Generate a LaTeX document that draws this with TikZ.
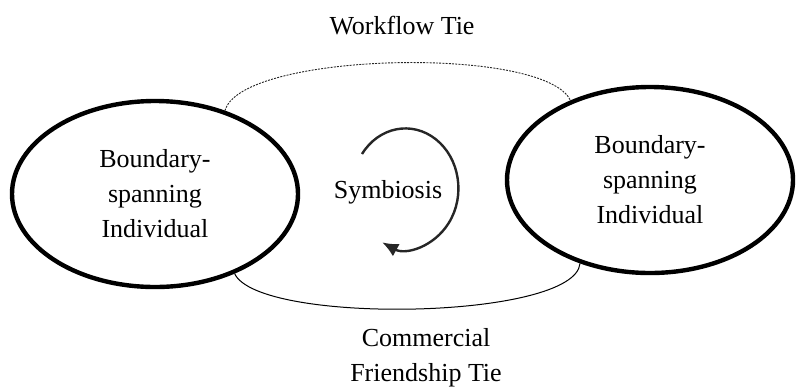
\documentclass[tikz,border=0pt]{standalone}
\usepackage{fontspec}
\setmainfont{Liberation Serif}
\usepackage{tikz}
\usetikzlibrary{arrows.meta,shapes}
\tikzstyle{agent}=[ellipse, draw, line width=2.2pt,% the two thick ovals
minimum width=143pt, minimum height=93pt, inner sep=0pt, align=center,
font=\fontsize{13}{17.5}\selectfont]
\tikzstyle{tielbl}=[align=center, inner sep=0pt, font=\fontsize{13}{17.5}\selectfont]
\tikzstyle{worktie}=[line width=0.45pt, black!85, dash pattern=on 1pt off 0.6pt]
\tikzstyle{commtie}=[line width=0.5pt]
\tikzstyle{cycle}=[line width=1.2pt, black!85, -{Latex[length=8pt,width=7pt]}]

\begin{document}
\begin{tikzpicture}[x=0.5pt,y=0.5pt]
\useasboundingbox (0,0) rectangle (796,388);
\node[agent] (bsL) at (155,194) {Boundary-\\spanning\\Individual};
\node[agent] (bsR) at (650,208) {Boundary-\\spanning\\Individual};
\node[tielbl] (wft) at (402,362) {Workflow Tie};
\node[tielbl] (cft) at (426,30) {Commercial\\Friendship Tie};
\node[tielbl] (sym) at (388,196) {Symbiosis};
\coordinate (cyc) at (362,234);
\draw[worktie] (bsL.50) to[out=75,in=115,looseness=0.45] (bsR.135);
\draw[commtie] (bsL.-45) to[out=-65,in=-95,looseness=0.42] (bsR.230);
\draw[cycle] (cyc) arc[start angle=145, end angle=-116, x radius=53, y radius=60];
\end{tikzpicture}
\end{document}
